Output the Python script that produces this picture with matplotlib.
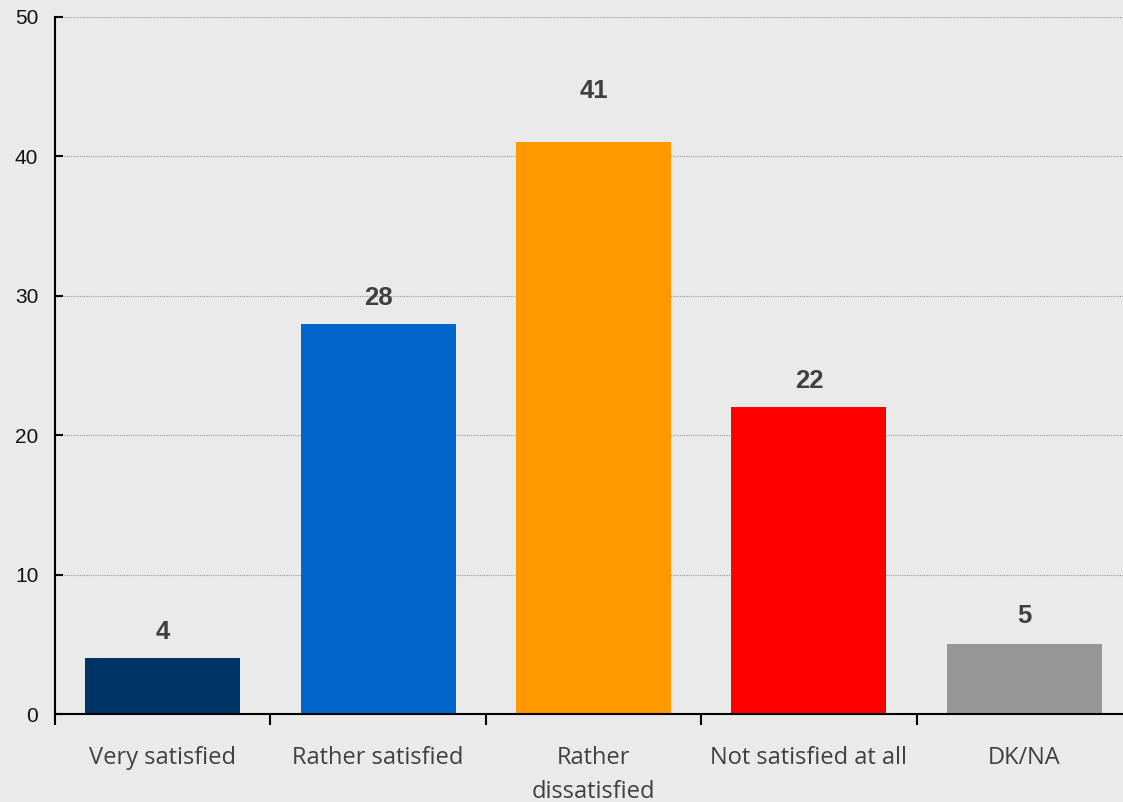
import matplotlib
matplotlib.use("Agg")
import matplotlib.pyplot as plt
import numpy as np

categories = ["Very satisfied", "Rather satisfied", "Rather\ndissatisfied", "Not satisfied at all", "DK/NA"]
values = [4, 28, 41, 22, 5]
colors = ["#003366", "#0066CC", "#FF9900", "#FF0000", "#969696"]
label_offsets_px = [26, 26, 51, 26, 28]
yticks = [0, 10, 20, 30, 40, 50]

bg = "#EAEAEA"
W, H = 1123, 802
fig = plt.figure(figsize=(W / 100, H / 100), dpi=100, facecolor=bg)
left, right, top, bottom = 55, 1132, 17, 714
ax = fig.add_axes([left / W, 1 - bottom / H, (right - left) / W, (bottom - top) / H])
ax.set_facecolor(bg)

x = np.arange(len(categories))
ax.bar(x, values, width=0.72, color=colors, zorder=3)
ax.set_xlim(-0.5, len(categories) - 0.5)
ax.set_ylim(0, 50)

ax.set_yticks(yticks)
ax.set_yticklabels([str(t) for t in yticks], fontsize=15, family="Liberation Sans", color="#111111")
ax.tick_params(axis="y", direction="in", length=6, width=1.5, pad=12)
ax.yaxis.grid(True, color="#9A9A9A", linestyle=(0, (1, 1)), linewidth=0.8, zorder=0)

ax.set_xticks(np.arange(len(categories) + 1) - 0.5)
ax.set_xticklabels([])
ax.tick_params(axis="x", direction="out", length=8, width=1.5)
ax.set_xticks(x, minor=True)
ax.set_xticklabels(categories, minor=True, fontsize=17, family="Open Sans", color="#404040", linespacing=1.55)
ax.tick_params(axis="x", which="minor", length=0, pad=23)
for lbl in ax.get_xticklabels(minor=True):
    lbl.set_verticalalignment("top")

for s in ["top", "right"]:
    ax.spines[s].set_visible(False)
ax.spines["left"].set_linewidth(1.5)
ax.spines["bottom"].set_linewidth(1.5)
ax.spines["left"].set_zorder(5)
ax.spines["bottom"].set_zorder(5)

for xi, v, off in zip(x, values, label_offsets_px):
    ax.annotate(str(v), (xi, v), xytext=(0, off * 0.72), textcoords="offset points",
                ha="center", va="center", fontsize=18.5, fontweight="bold",
                family="Liberation Sans", color="#404040")

fig.savefig("out.png", dpi=100, facecolor=bg)
